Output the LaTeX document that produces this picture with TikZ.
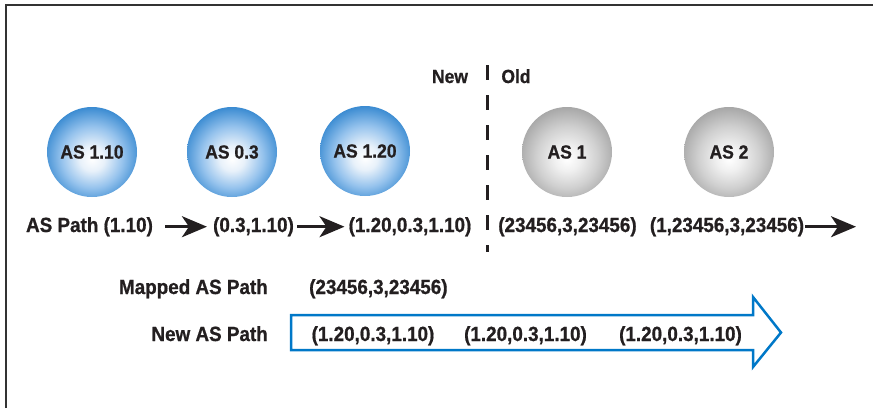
\documentclass[tikz,border=0pt]{standalone}
\usepackage{fontspec}
\setmainfont{Liberation Sans}
\newfontfamily\rowf{Liberation Sans}[FakeStretch=0.92, BoldFeatures={FakeBold=0.8}]
\usetikzlibrary{arrows.meta}
\definecolor{sba}{RGB}{232,241,250}
\definecolor{sbb}{RGB}{150,195,237}
\definecolor{sbc}{RGB}{60,140,210}
\definecolor{sbedge}{RGB}{0,105,190}
\definecolor{sga}{RGB}{240,240,240}
\definecolor{sgb}{RGB}{208,208,208}
\definecolor{sgc}{RGB}{168,168,168}
\definecolor{sgedge}{RGB}{132,132,132}
\definecolor{ink}{RGB}{35,31,32}
\definecolor{lblue}{RGB}{0,120,200}
\pgfdeclareradialshading{bluesphere}{\pgfpoint{0bp}{-4bp}}{color(0bp)=(white); color(7bp)=(sba); color(17bp)=(sbb); color(27bp)=(sbc); color(36bp)=(sbedge); color(60bp)=(sbedge)}
\pgfdeclareradialshading{greysphere}{\pgfpoint{0bp}{-4bp}}{color(0bp)=(white); color(7bp)=(sga); color(17bp)=(sgb); color(27bp)=(sgc); color(36bp)=(sgedge); color(60bp)=(sgedge)}
\tikzset{
  bsph/.style={circle, minimum size=90pt, inner sep=0pt, shading=bluesphere, text=ink, font=\rowf\bfseries\fontsize{19}{22}\selectfont},
  gsph/.style={bsph, shading=greysphere},
  rowtext/.style={inner sep=0pt, text=ink, font=\rowf\bfseries\fontsize{20.5}{24}\selectfont},
  hdr/.style={inner sep=0pt, text=ink, font=\rowf\bfseries\fontsize{19}{22}\selectfont},
  blkarrow/.style={draw=ink, line width=2.5pt, -{Stealth[length=25pt,width=21pt,inset=7pt]}},
  blueshape/.style={draw=lblue, line width=2.5pt, line join=miter},
}
\begin{document}
\begin{tikzpicture}[x=1pt,y=-1pt]
\useasboundingbox (0,0) rectangle (873,408);
% frame
\draw[line width=1.5pt, draw=black!80] (6,408) -- (6,5) -- (873,5);
% spheres
\node[bsph] (as110) at (92,152) {AS 1.10};
\node[bsph] (as03) at (232,152) {AS 0.3};
\node[bsph] (as120) at (365,151) {AS 1.20};
\node[gsph] (as1) at (567,152) {AS 1};
\node[gsph] (as2) at (729,152) {AS 2};
% new / old
\node[hdr, anchor=base] (new) at (450,83) {New};
\node[hdr, anchor=base] (old) at (516,83) {Old};
\coordinate (dtop) at (487,65);
\coordinate (dbot) at (487,252);
\draw[ink, line width=3pt, dash pattern=on 15pt off 15pt] (dtop) -- (dbot);
% path row
\node[rowtext, anchor=base] (p0) at (89.5,232) {AS Path (1.10)};
\node[rowtext, anchor=base] (p1) at (253.5,232) {(0.3,1.10)};
\node[rowtext, anchor=base] (p2) at (410,232) {(1.20,0.3,1.10)};
\node[rowtext, anchor=base] (p3) at (567.5,232) {(23456,3,23456)};
\node[rowtext, anchor=base] (p4) at (727,232) {(1,23456,3,23456)};
\coordinate (pend) at (856,0 |- p4.east);
\draw[blkarrow, shorten <=12pt, shorten >=6pt] (p0.east) -- (p1.west);
\draw[blkarrow, shorten <=3pt, shorten >=4pt] (p1.east) -- (p2.west);
\draw[blkarrow, shorten <=1pt] (p4.east) -- (pend);
% lower part
\node[rowtext, anchor=base east] (mlab) at (268,294) {Mapped AS Path};
\node[rowtext, anchor=base west] (mval) at (309,294) {(23456,3,23456)};
\node[rowtext, anchor=base east] (nlab) at (268,341) {New AS Path};
\draw[blueshape] (291,315) -- (753,315) -- (753,297) -- (781,332.5) -- (753,367) -- (753,350) -- (291,350) -- cycle;
\node[rowtext, anchor=base] (n1) at (373,341) {(1.20,0.3,1.10)};
\node[rowtext, anchor=base] (n2) at (525.5,341) {(1.20,0.3,1.10)};
\node[rowtext, anchor=base] (n3) at (680.5,341) {(1.20,0.3,1.10)};
\end{tikzpicture}
\end{document}
